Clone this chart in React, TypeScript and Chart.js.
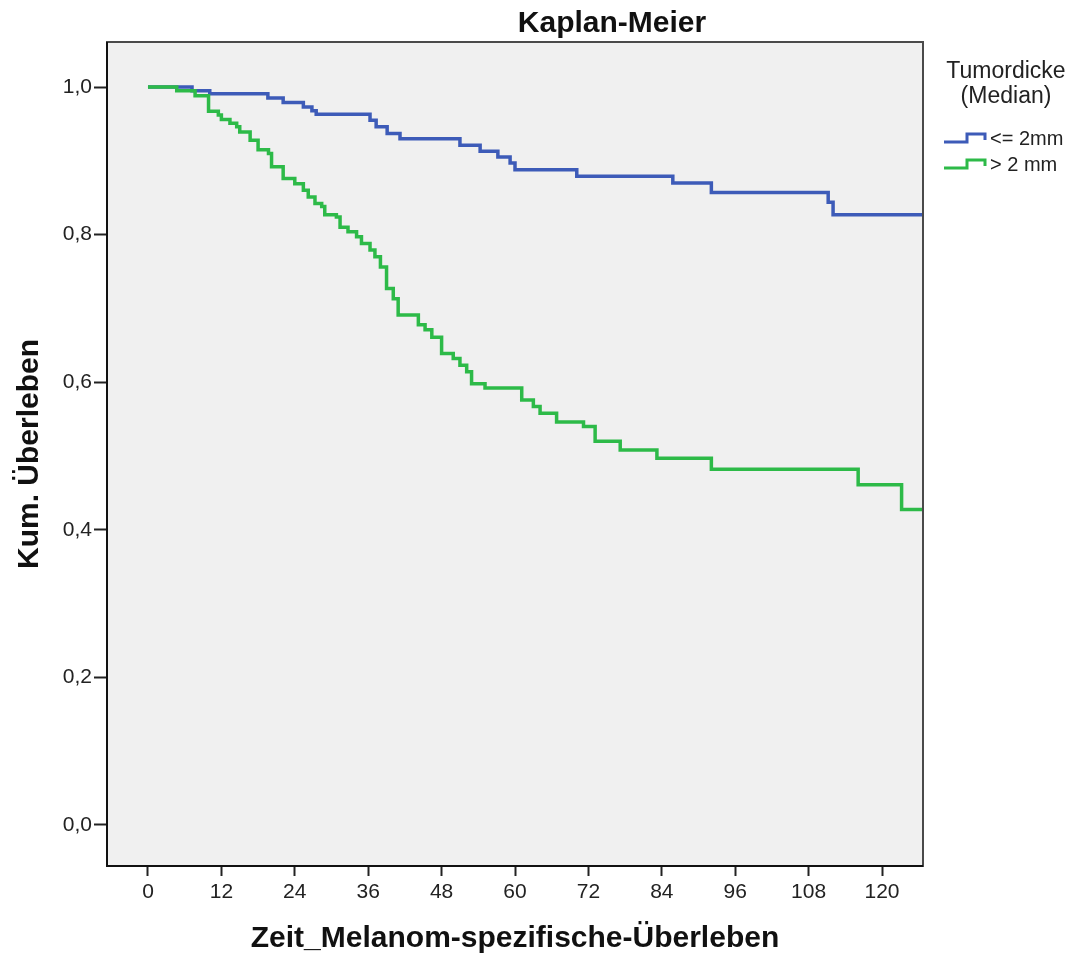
import React, { useEffect, useRef } from "react";
import { Chart, registerables } from "chart.js";

Chart.register(...registerables);

// Group "<= 2mm" (blue)
const lowTimes = [0, 7.2, 10.1, 19.6, 22.1, 25.4, 26.8, 27.5, 36.3, 37.3, 39.1, 41.2, 51, 54.3, 57.2, 59.2, 60, 70.1, 85.8, 92.1, 111.2, 112, 126.7];
const lowSurv = [1.0, 0.995, 0.991, 0.985, 0.979, 0.973, 0.968, 0.963, 0.955, 0.946, 0.937, 0.93, 0.921, 0.913, 0.905, 0.897, 0.888, 0.879, 0.87, 0.857, 0.844, 0.827, 0.827];

// Group "> 2 mm" (green)
const highTimes = [0, 4.7, 7.7, 9.9, 11.5, 12, 13.4, 14.5, 15, 16.7, 18, 19.7, 20.2, 22.1, 24, 25.4, 26.2, 27.3, 28.4, 28.9, 30.8, 31.4, 32.7, 34.1, 34.9, 36.3, 37.1, 38.0, 39.0, 40.1, 40.9, 44.2, 45.3, 46.4, 48, 49.9, 51, 52.1, 52.9, 55.1, 61.1, 63, 64.1, 66.8, 71.2, 73.1, 77.2, 83.2, 92.1, 116.1, 123.2, 126.7];
const highSurv = [1.0, 0.995, 0.988, 0.967, 0.962, 0.956, 0.951, 0.946, 0.939, 0.928, 0.915, 0.91, 0.892, 0.876, 0.869, 0.86, 0.851, 0.842, 0.838, 0.827, 0.824, 0.81, 0.804, 0.797, 0.788, 0.779, 0.77, 0.756, 0.727, 0.713, 0.691, 0.678, 0.671, 0.661, 0.639, 0.632, 0.623, 0.614, 0.598, 0.592, 0.576, 0.567, 0.558, 0.546, 0.54, 0.52, 0.508, 0.497, 0.482, 0.461, 0.4275, 0.4275];

const xTickValues = [0, 12, 24, 36, 48, 60, 72, 84, 96, 108, 120];
const yTickValues = [0, 0.2, 0.4, 0.6, 0.8, 1.0];

const seriesLabels = ["<= 2mm", "> 2 mm"];
const legendTitle = ["Tumordicke", "(Median)"];
const chartTitle = "Kaplan-Meier";
const xTitle = "Zeit_Melanom-spezifische-Überleben";
const yTitle = "Kum. Überleben";

const BLUE = "#3d5bb8";
const GREEN = "#2dba48";
const FONT = "'Liberation Sans', Arial, sans-serif";

const decorPlugin = {
  id: "decor",
  beforeDatasetsDraw(chart: any) {
    const { ctx, chartArea } = chart;
    ctx.save();
    ctx.fillStyle = "#f0f0f0";
    ctx.fillRect(chartArea.left, chartArea.top, chartArea.right - chartArea.left, chartArea.bottom - chartArea.top);
    ctx.restore();
  },
  afterDraw(chart: any) {
    const { ctx, chartArea } = chart;
    ctx.save();
    ctx.strokeStyle = "#4a4a4a";
    ctx.lineWidth = 2;
    ctx.strokeRect(chartArea.left, chartArea.top, chartArea.right - chartArea.left, chartArea.bottom - chartArea.top);
    ctx.strokeStyle = "#111";
    ctx.beginPath();
    ctx.moveTo(chartArea.left, chartArea.top);
    ctx.lineTo(chartArea.left, chartArea.bottom);
    ctx.lineTo(chartArea.right, chartArea.bottom);
    ctx.stroke();

    // title
    ctx.fillStyle = "#111";
    ctx.font = `bold 30px ${FONT}`;
    ctx.textAlign = "center";
    ctx.textBaseline = "alphabetic";
    ctx.fillText(chartTitle, 612, 32);

    // legend
    ctx.fillStyle = "#222";
    ctx.font = `23px ${FONT}`;
    ctx.fillText(legendTitle[0], 1006, 78);
    ctx.fillText(legendTitle[1], 1006, 103);

    const colors = [BLUE, GREEN];
    const ys = [138, 164];
    ctx.textAlign = "left";
    ctx.textBaseline = "middle";
    ctx.font = `20px ${FONT}`;
    seriesLabels.forEach((lab, i) => {
      const y = ys[i];
      ctx.strokeStyle = colors[i];
      ctx.lineWidth = 3;
      ctx.beginPath();
      ctx.moveTo(944, y + 4);
      ctx.lineTo(967, y + 4);
      ctx.lineTo(967, y - 4);
      ctx.lineTo(985, y - 4);
      ctx.lineTo(985, y + 2);
      ctx.stroke();
      ctx.fillStyle = "#222";
      ctx.fillText(lab, 990, y + 1);
    });
    ctx.restore();
  },
};

export default function App() {
  const ref = useRef<HTMLCanvasElement | null>(null);

  useEffect(() => {
    document.body.style.margin = "0";
    if (!ref.current) return;
    const chart = new Chart(ref.current, {
      type: "line",
      data: {
        datasets: [
          {
            label: seriesLabels[1],
            data: highTimes.map((t, i) => ({ x: t, y: highSurv[i] })),
            borderColor: GREEN,
            borderWidth: 3.5,
            stepped: true,
            pointRadius: 0,
            fill: false,
            order: 0,
          },
          {
            label: seriesLabels[0],
            data: lowTimes.map((t, i) => ({ x: t, y: lowSurv[i] })),
            borderColor: BLUE,
            borderWidth: 3.5,
            stepped: true,
            pointRadius: 0,
            fill: false,
            order: 1,
          },
        ],
      },
      options: {
        responsive: false,
        animation: false,
        layout: { padding: { top: 42, right: 155, left: 0, bottom: 0 } },
        plugins: {
          legend: { display: false },
          title: { display: false },
          tooltip: { enabled: false },
        },
        scales: {
          x: {
            type: "linear",
            min: -6.7,
            max: 126.7,
            afterBuildTicks: (s: any) => {
              s.ticks = xTickValues.map((v) => ({ value: v }));
            },
            afterFit: (s: any) => {
              s.height = 91;
            },
            ticks: {
              autoSkip: false,
              maxRotation: 0,
              color: "#222",
              font: { family: FONT, size: 21 },
              padding: 4,
              callback: (v: any) => String(v),
            },
            grid: { drawOnChartArea: false, drawTicks: true, tickLength: 10, tickColor: "#222", tickWidth: 2 },
            border: { display: false },
            title: {
              display: true,
              text: xTitle,
              color: "#111",
              font: { family: FONT, size: 30, weight: "bold" },
              padding: { top: 0, bottom: 0 },
            },
          },
          y: {
            type: "linear",
            min: -0.0556,
            max: 1.061,
            afterBuildTicks: (s: any) => {
              s.ticks = yTickValues.map((v) => ({ value: v }));
            },
            afterFit: (s: any) => {
              s.width = 107;
            },
            ticks: {
              color: "#222",
              font: { family: FONT, size: 21 },
              padding: 2,
              callback: (v: any) => Number(v).toFixed(1).replace(".", ","),
            },
            grid: { drawOnChartArea: false, drawTicks: true, tickLength: 13, tickColor: "#222", tickWidth: 2 },
            border: { display: false },
            title: {
              display: true,
              text: yTitle,
              color: "#111",
              font: { family: FONT, size: 30, weight: "bold" },
              padding: { top: 12, bottom: 0 },
            },
          },
        },
      },
      plugins: [decorPlugin],
    });
    return () => chart.destroy();
  }, []);

  return (
    <div style={{ width: 1078, height: 957, background: "#fff" }}>
      <canvas ref={ref} width={1078} height={957} style={{ display: "block" }} />
    </div>
  );
}
